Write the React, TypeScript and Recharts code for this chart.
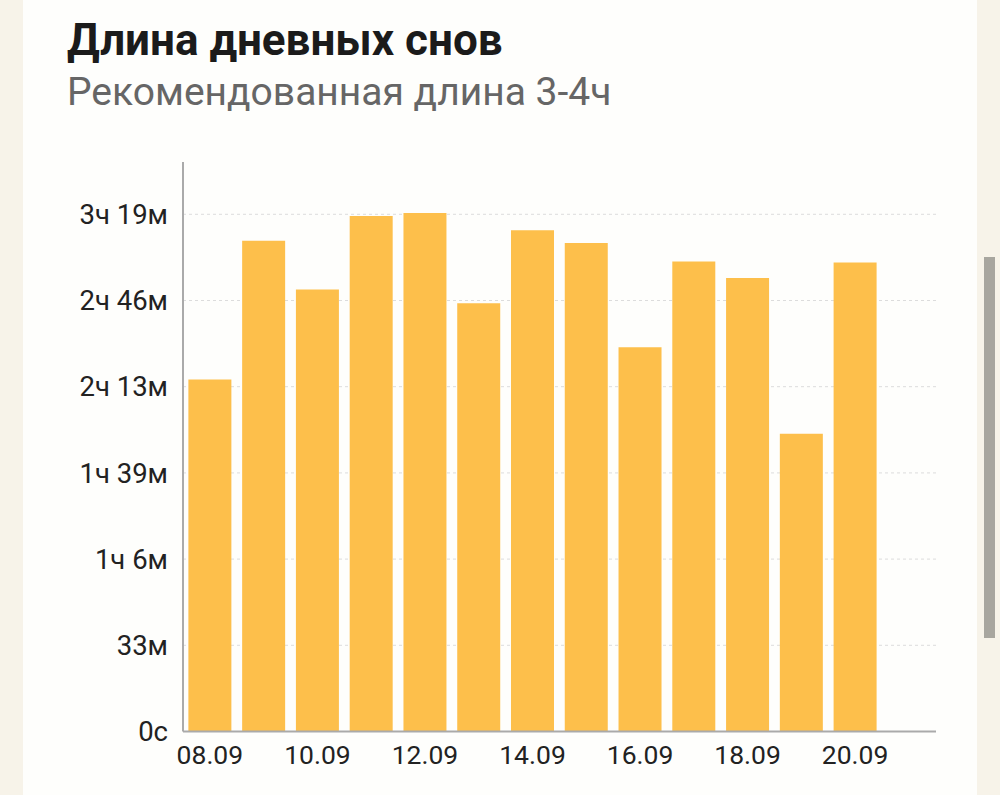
import React from 'react';
import { BarChart, Bar, XAxis, YAxis, CartesianGrid } from 'recharts';

// длина дневного сна по дням, в минутах
const days = ['08.09', '09.09', '10.09', '11.09', '12.09', '13.09', '14.09', '15.09', '16.09', '17.09', '18.09', '19.09', '20.09'];
const napMinutes = [136, 189.6, 170.7, 199.1, 200.3, 165.4, 193.6, 188.7, 148.4, 181.6, 175.2, 115, 181.2];

const yTicks = [0, 33.3, 66.6, 99.9, 133.2, 166.5, 199.8];
const yTickLabels = ['0с', '33м', '1ч 6м', '1ч 39м', '2ч 13м', '2ч 46м', '3ч 19м'];

const rows = days.map((d, i) => ({ day: d, minutes: napMinutes[i] }));

const font = 'Roboto, "Noto Sans", sans-serif';

export default function App() {
  return (
    <div style={{ position: 'absolute', left: 0, top: 0, width: 1000, height: 795, background: '#f7f3e9', overflow: 'hidden', fontFamily: font }}>
      <div style={{ position: 'absolute', left: 23, top: -24, width: 954, height: 850, background: '#fefefc', borderRadius: 24 }} />
      <div style={{ position: 'absolute', left: 984, top: 257, width: 11, height: 381, background: '#a8a69f' }} />
      <div style={{ position: 'absolute', left: 67, top: 18, fontSize: 44, fontWeight: 700, color: '#1b1b1b', lineHeight: '44px', whiteSpace: 'nowrap' }}>
        Длина дневных снов
      </div>
      <div style={{ position: 'absolute', left: 67, top: 73, fontSize: 39, color: '#666', lineHeight: '39px', whiteSpace: 'nowrap' }}>
        Рекомендованная длина 3-4ч
      </div>
      <div style={{ position: 'absolute', left: 0, top: 0 }}>
        <BarChart width={1000} height={795} data={rows} margin={{ top: 162, right: 64, bottom: 20, left: 0 }} barCategoryGap="10%">
          <CartesianGrid vertical={false} horizontalValues={yTicks} stroke="#dcdcdc" strokeDasharray="3 3" />
          <XAxis
            dataKey="day"
            interval={1}
            padding={{ left: 0, right: 54 }}
            tickLine={false}
            axisLine={{ stroke: '#aaa', strokeWidth: 2 }}
            tick={{ fill: '#222', fontSize: 26.5, fontFamily: font }}
            tickMargin={8}
            height={43.5}
          />
          <YAxis
            domain={[0, 220]}
            ticks={yTicks}
            tickFormatter={(v, i) => yTickLabels[i]}
            width={183}
            tickLine={false}
            tickSize={0}
            tickMargin={15}
            axisLine={{ stroke: '#aaa', strokeWidth: 2 }}
            tick={{ fill: '#222', fontSize: 27.5, fontFamily: font }}
          />
          <Bar dataKey="minutes" fill="#fdbf4b" isAnimationActive={false} />
        </BarChart>
      </div>
    </div>
  );
}
